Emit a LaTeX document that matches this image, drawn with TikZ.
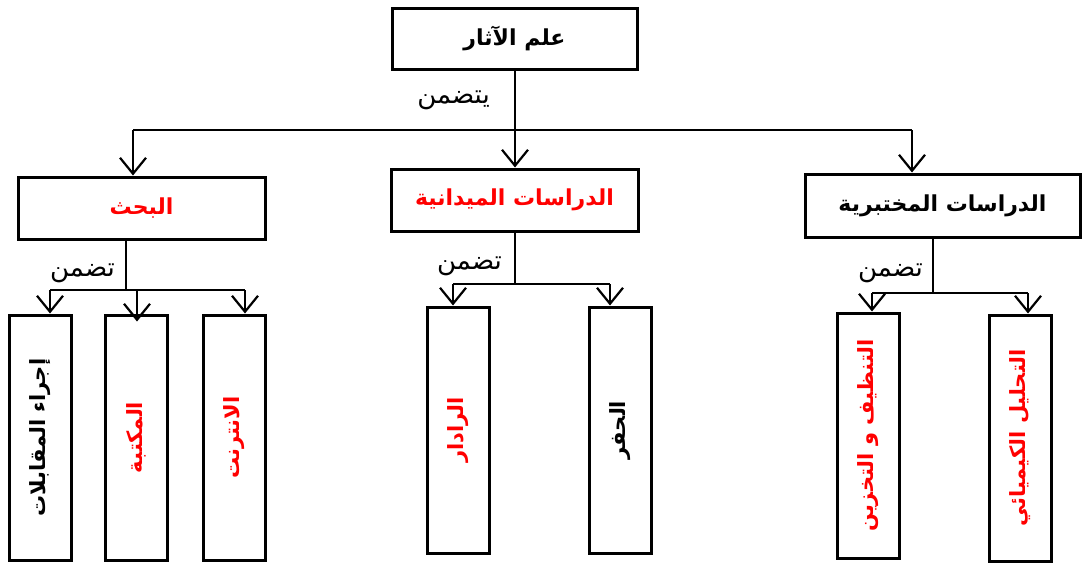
\documentclass[tikz,border=0pt]{standalone}
\usepackage{fontspec}
\usetikzlibrary{arrows.meta}
\newfontfamily\arabicfont[Script=Arabic]{DejaVu Sans}
\TeXXeTstate=1
\definecolor{myred}{RGB}{255,0,0}
\newcommand{\AR}[1]{\arabicfont\beginR #1\endR}
\begin{document}
\begin{tikzpicture}[x=1pt,y=-1pt,
  box/.style={draw, line width=3pt, inner sep=0pt, fill=white},
  headbox/.style={box, font=\arabicfont\bfseries\fontsize{22}{26}\selectfont},
  leafbox/.style={box, minimum width=62pt, minimum height=245pt},
  leaftext/.style={rotate=90, inner sep=0pt, font=\arabicfont\bfseries\fontsize{21}{25}\selectfont},
  lbl/.style={anchor=east, inner sep=0pt, font=\arabicfont\fontsize{26}{30}\selectfont},
  conn/.style={line width=1.8pt},
  arr/.style={conn, -{Straight Barb[length=16pt,width=26pt,line width=2.2pt]}}
]
\useasboundingbox (0,0) rectangle (1083,563);
% top
\node[headbox, minimum width=245pt, minimum height=61pt] (top) at (514.5,38.5) {\AR{علم الآثار}};
% level 2
\node[headbox, minimum width=247pt, minimum height=62pt, text=myred] (b1) at (141.5,208) {\AR{البحث}};
\node[headbox, minimum width=247pt, minimum height=62pt, text=myred] (b2) at (514.5,200) {\AR{الدراسات الميدانية}};
\node[headbox, minimum width=275pt, minimum height=63pt] (b3) at (942.5,205.5) {\AR{الدراسات المختبرية}};
% leaves
\node[leafbox] (l1) at (40,437.5) {};
\node[leafbox] (l2) at (136,437.5) {};
\node[leafbox] (l3) at (234,437.5) {};
\node[leafbox, minimum height=246pt] (m1) at (458,430) {};
\node[leafbox, minimum height=246pt] (m2) at (620,430) {};
\node[leafbox] (r1) at (868,435.5) {};
\node[leafbox, minimum height=246pt] (r2) at (1020.5,438) {};
\node[leaftext] (l1t) at (l1) {\AR{إجراء المقابلات}};
\node[leaftext, text=myred] (l2t) at (l2) {\AR{المكتبة}};
\node[leaftext, text=myred] (l3t) at (l3) {\AR{الانترنت}};
\node[leaftext, text=myred] (m1t) at (m1) {\AR{الرادار}};
\node[leaftext] (m2t) at (m2) {\AR{الحفر}};
\node[leaftext, text=myred] (r1t) at (r1) {\AR{التنظيف و التخزين}};
\node[leaftext, text=myred] (r2t) at (r2) {\AR{التحليل الكيميائي}};
% junctions
\coordinate (j0) at (515,130);
\coordinate (j0l) at (133,130);
\coordinate (j0r) at (912,130);
\coordinate (j1) at (126,290);
\coordinate (j1a) at (50,290);
\coordinate (j1b) at (137,290);
\coordinate (j1c) at (245,290);
\coordinate (j2) at (515,284);
\coordinate (j2a) at (453,284);
\coordinate (j2b) at (610,284);
\coordinate (j3) at (933,293);
\coordinate (j3a) at (872,293);
\coordinate (j3b) at (1028,293);
% connectors top
\draw[conn] (top.south -| j0) -- (j0);
\draw[conn] (j0l) -- (j0r);
\draw[arr] (j0l) -- (j0l |- b1.north);
\draw[arr] (j0) -- (j0 |- b2.north);
\draw[arr] (j0r) -- (j0r |- b3.north);
\node[lbl] (lab0) at (490,100) {\AR{يتضمن}};
% b1
\draw[conn] (b1.south -| j1) -- (j1);
\draw[conn] (j1a) -- (j1c);
\draw[arr] (j1a) -- (j1a |- l1.north);
\draw[arr] (j1b) -- ([yshift=-8pt]j1b |- l2.north);
\draw[arr] (j1c) -- (j1c |- l3.north);
\node[lbl] (lab1) at (115,273) {\AR{تضمن}};
% b2
\draw[conn] (b2.south -| j2) -- (j2);
\draw[conn] (j2a) -- (j2b);
\draw[arr] (j2a) -- (j2a |- m1.north);
\draw[arr] (j2b) -- (j2b |- m2.north);
\node[lbl] (lab2) at (502,266) {\AR{تضمن}};
% b3
\draw[conn] (b3.south -| j3) -- (j3);
\draw[conn] (j3a) -- (j3b);
\draw[arr] (j3a) -- (j3a |- r1.north);
\draw[arr] (j3b) -- (j3b |- r2.north);
\node[lbl] (lab3) at (923,273) {\AR{تضمن}};
\end{tikzpicture}
\end{document}
